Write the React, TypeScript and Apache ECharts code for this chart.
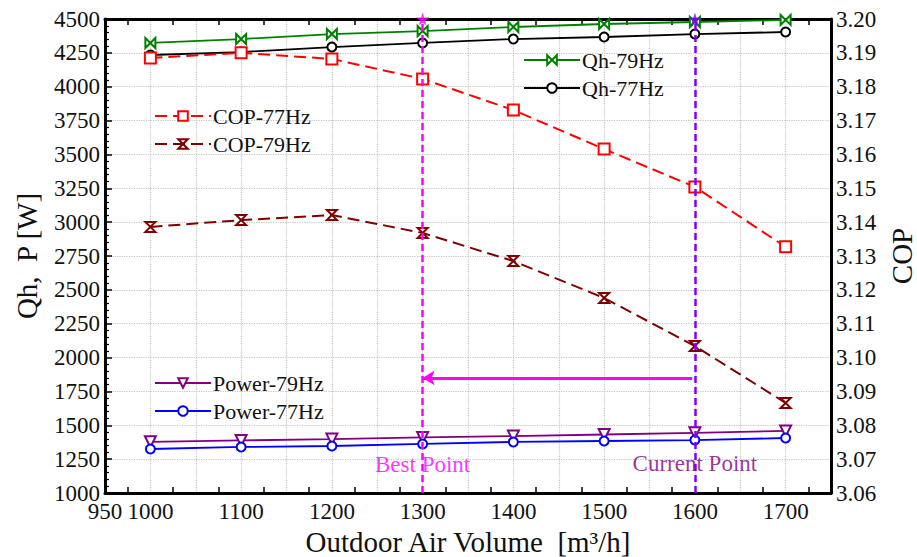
import React, { useEffect, useRef } from "react";
import * as echarts from "echarts";

const airVolume = [1000, 1100, 1200, 1300, 1400, 1500, 1600, 1700];
const qh79 = [4323, 4352, 4389, 4411, 4441, 4463, 4478, 4493];
const qh77 = [4234, 4256, 4293, 4323, 4352, 4367, 4389, 4404];
const cop77 = [3.1885, 3.19, 3.1882, 3.1823, 3.1731, 3.1616, 3.1504, 3.1327];
const cop79 = [3.1386, 3.1406, 3.1421, 3.1368, 3.1285, 3.1176, 3.1034, 3.0866];
const power79 = [1378, 1388, 1398, 1410, 1420, 1432, 1444, 1458];
const power77 = [1325, 1340, 1347, 1362, 1377, 1384, 1391, 1406];

const bestPoint = 1300;
const currentPoint = 1600;
const arrowLevel = 1850;
const bestLabelLevel = 1207;
const currentLabelLevel = 1220;
const topLevel = 4500;

const FONT = "'Liberation Serif', 'Times New Roman', serif";

const bowtie = "path://M0,0L10,10L10,0L0,10Z";
const hourglass = "path://M0,0L10,0L0,10L10,10Z";
const triDown = "path://M0,0L10,0L5,9Z";
const star =
  "path://M50,0L61,35L98,35L68,57L79,91L50,70L21,91L32,57L2,35L39,35Z";

const pairs = (ys: number[]) => airVolume.map((x, i) => [x, ys[i]]);

function makeLine(
  name: string,
  ys: number[],
  color: string,
  symbol: string,
  size: number,
  yAxisIndex: number,
  dashed: boolean
) {
  return {
    name,
    type: "line",
    xAxisIndex: 0,
    yAxisIndex,
    data: pairs(ys),
    symbol,
    symbolSize: size,
    showAllSymbol: true,
    itemStyle: { color: "#fff", borderColor: color, borderWidth: 2 },
    lineStyle: {
      color,
      width: dashed ? 2 : 1.8,
      type: dashed ? [12, 6] : "solid",
    },
    z: 3,
  };
}

export default function App() {
  const ref = useRef<HTMLDivElement>(null);
  useEffect(() => {
    if (!ref.current) return;
    const chart = echarts.init(ref.current, undefined, {
      renderer: "svg",
      width: 917,
      height: 557,
    });
    const axisLine = { show: true, lineStyle: { color: "#000", width: 3 } };
    const split = {
      show: true,
      lineStyle: { color: "#c4c4c4", type: "dotted", width: 1.2 },
    };
    const legendCommon = {
      orient: "vertical",
      padding: 0,
      itemWidth: 56,
      itemHeight: 12,
      itemGap: 6,
      textStyle: { fontFamily: FONT, fontSize: 22, color: "#111", padding: [0, 0, 0, -3] },
      selectedMode: false,
    };
    const tickFont = { fontFamily: FONT, fontSize: 23, color: "#111", lineHeight: 18 };
    chart.setOption({
      animation: false,
      backgroundColor: "#fff",
      grid: {
        left: 105,
        right: 86,
        top: 19,
        bottom: 64,
        containLabel: false,
        outerBoundsMode: "none",
      },
      legend: [
        { ...legendCommon, data: ["Qh-79Hz", "Qh-77Hz"], left: 523, top: 49 },
        { ...legendCommon, data: ["COP-77Hz", "COP-79Hz"], left: 154, top: 105 },
        { ...legendCommon, data: ["Power-79Hz", "Power-77Hz"], left: 154, top: 372 },
      ],
      xAxis: [
        {
          type: "value",
          position: "bottom",
          min: 950,
          max: 1750,
          interval: 50,
          axisLine,
          axisTick: { show: false, inside: true },
          minorTick: { show: true, splitNumber: 2, length: 6, lineStyle: { color: "#000", width: 1.5 } },
          axisLabel: {
            ...tickFont,
            margin: 9,
            formatter: (v: number) =>
              v !== 1750 && (v % 100 === 0 || v === 950) ? String(v) : "",
          },
          splitLine: split,
          name: "Outdoor Air Volume  [m³/h]",
          nameLocation: "middle",
          nameGap: 31,
          nameTextStyle: { fontFamily: FONT, fontSize: 29, color: "#111", verticalAlign: "top" },
        },
        {
          type: "value",
          position: "top",
          min: 950,
          max: 1750,
          interval: 50,
          axisLine,
          axisTick: { show: false, inside: true },
          minorTick: { show: true, splitNumber: 2, length: 6, lineStyle: { color: "#000", width: 1.5 } },
          axisLabel: { show: false },
          splitLine: { show: false },
        },
      ],
      yAxis: [
        {
          type: "value",
          position: "left",
          min: 1000,
          max: 4500,
          interval: 250,
          axisLine,
          axisTick: { show: true, inside: true, length: 7, lineStyle: { color: "#000", width: 1.5 } },
          minorTick: { show: true, splitNumber: 5, length: 4, lineStyle: { color: "#000", width: 1.2 } },
          axisLabel: { ...tickFont, margin: 5, formatter: (v: number) => String(v) },
          splitLine: split,
          name: "Qh,  P [W]",
          nameLocation: "middle",
          nameRotate: 90,
          nameGap: 64,
          nameTextStyle: { fontFamily: FONT, fontSize: 29, color: "#111" },
        },
        {
          type: "value",
          position: "right",
          min: 3.06,
          max: 3.2,
          interval: 0.01,
          axisLine,
          axisTick: { show: false },
          axisLabel: {
            ...tickFont,
            margin: 5,
            formatter: (v: number) => v.toFixed(2),
          },
          splitLine: { show: false },
          name: "COP",
          nameLocation: "middle",
          nameRotate: 90,
          nameGap: 56,
          nameTextStyle: { fontFamily: FONT, fontSize: 29, color: "#111" },
        },
      ],
      series: [
        makeLine("Qh-79Hz", qh79, "#008000", bowtie, 10, 0, false),
        makeLine("Qh-77Hz", qh77, "#000000", "circle", 9, 0, false),
        makeLine("COP-77Hz", cop77, "#ff0000", "rect", 11, 1, true),
        makeLine("COP-79Hz", cop79, "#800000", hourglass, 10, 1, true),
        makeLine("Power-79Hz", power79, "#800080", triDown, 11, 0, false),
        makeLine("Power-77Hz", power77, "#0000ff", "circle", 9, 0, false),
        {
          name: "refs",
          type: "scatter",
          xAxisIndex: 0,
          yAxisIndex: 0,
          clip: false,
          symbol: star,
          symbolSize: 13,
          z: 5,
          data: [
            { value: [bestPoint, topLevel], itemStyle: { color: "#ff00ff" } },
            { value: [currentPoint, topLevel], itemStyle: { color: "#8000ff" } },
          ],
          markLine: {
            silent: true,
            symbol: "none",
            label: { show: false },
            z: 4,
            data: [
              { xAxis: bestPoint, lineStyle: { color: "#ff00ff", width: 2.5, type: [7, 4] } },
              { xAxis: currentPoint, lineStyle: { color: "#8000ff", width: 2.5, type: [7, 4] } },
              [
                {
                  coord: [currentPoint - 3, arrowLevel],
                  symbol: "none",
                  lineStyle: { color: "#ff00ff", width: 3, type: "solid" },
                },
                { coord: [bestPoint, arrowLevel], symbol: "arrow", symbolSize: [11, 12] },
              ],
            ],
          },
        },
        {
          name: "labels",
          type: "scatter",
          xAxisIndex: 0,
          yAxisIndex: 0,
          symbol: "circle",
          symbolSize: 1,
          itemStyle: { color: "rgba(0,0,0,0)" },
          z: 6,
          data: [
            {
              value: [bestPoint, bestLabelLevel],
              label: { show: true, position: "inside", formatter: "Best Point", color: "#ff00ff" },
            },
            {
              value: [currentPoint, currentLabelLevel],
              label: { show: true, position: "inside", formatter: "Current Point", color: "#800080" },
            },
          ],
          label: { fontFamily: FONT, fontSize: 23 },
        },
      ],
    });
    return () => chart.dispose();
  }, []);
  return (
    <div
      ref={ref}
      style={{ position: "fixed", left: 0, top: 0, width: 917, height: 557 }}
    />
  );
}
